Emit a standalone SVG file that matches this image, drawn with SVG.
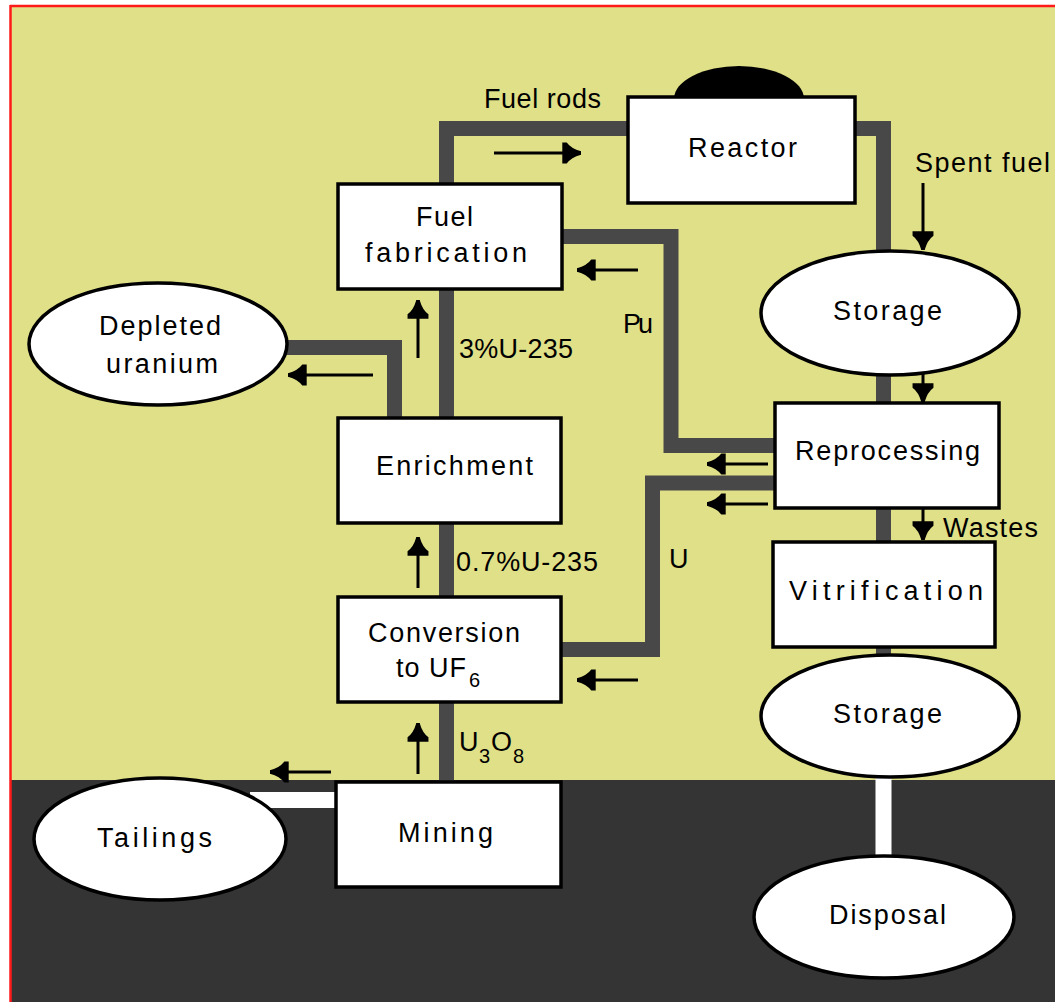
<svg xmlns="http://www.w3.org/2000/svg" width="1055" height="1002" viewBox="0 0 1055 1002">
<style>
.box{fill:#fff;stroke:#000;stroke-width:3.5}
.ell{fill:#fff;stroke:#000;stroke-width:3.5}
.pipe{fill:none;stroke:#484848;stroke-width:15;stroke-linejoin:miter;stroke-linecap:butt}
.wpipe{fill:none;stroke:#fff;stroke-width:16}
.arr{fill:none;stroke:#000;stroke-width:3;marker-end:url(#ah)}
text{font-family:"Liberation Sans","DejaVu Sans",Arial,sans-serif;font-size:27px;fill:#000}
.sub{font-size:20px}
</style>
<defs>
<marker id="ah" markerUnits="userSpaceOnUse" markerWidth="20" markerHeight="22" viewBox="0 -10 18 20" refX="17" refY="0" orient="auto" overflow="visible">
<path d="M0,-9.5 L4,-9.5 Q8,-4 17,-1.5 L17,1.5 Q8,4 4,9.5 L0,9.5 Z" fill="#000"/>
</marker>
</defs>
<rect x="0" y="0" width="1055" height="1002" fill="#fff"/>
<rect x="11" y="6" width="1044" height="774" fill="#e0e088"/>
<rect x="11" y="780" width="1044" height="222" fill="#343434"/>
<line x1="10" y1="6" x2="1055" y2="6" stroke="#ff1a1a" stroke-width="2.5"/>
<line x1="10.5" y1="5" x2="10.5" y2="1002" stroke="#ff1a1a" stroke-width="2.5"/>

<g id="connectors">
<polyline class="pipe" points="446.5,781 446.5,128.5 627,128.5"/>
<polyline class="pipe" points="855,128.5 883.5,128.5 883.5,660"/>
<polyline class="pipe" points="561,236.5 671,236.5 671,445.5 774,445.5"/>
<polyline class="pipe" points="561,649.5 652.5,649.5 652.5,483 774,483"/>
<polyline class="pipe" points="394.5,418 394.5,347.5 285,347.5"/>
<line class="wpipe" x1="250" y1="800" x2="336" y2="800"/>
<line class="wpipe" x1="883.5" y1="770" x2="883.5" y2="860"/>
<line class="arr" x1="494" y1="153" x2="581" y2="153"/>
<line class="arr" x1="638" y1="270" x2="577" y2="270"/>
<line class="arr" x1="373" y1="375" x2="288" y2="375"/>
<line class="arr" x1="418" y1="358" x2="418" y2="300"/>
<line class="arr" x1="418" y1="588" x2="418" y2="537"/>
<line class="arr" x1="418" y1="774" x2="418" y2="723"/>
<line class="arr" x1="638" y1="680" x2="577" y2="680"/>
<line class="arr" x1="768" y1="464" x2="707" y2="464"/>
<line class="arr" x1="768" y1="504" x2="707" y2="504"/>
<line class="arr" x1="923" y1="183" x2="923" y2="250"/>
<line class="arr" x1="923" y1="349" x2="923" y2="402"/>
<line class="arr" x1="923" y1="484" x2="923" y2="540"/>
<line class="arr" x1="331" y1="772" x2="270" y2="772"/>
</g>

<g id="labels">
<text x="484" y="108" textLength="117">Fuel rods</text>
<text x="915" y="172" textLength="135">Spent fuel</text>
<text x="459" y="358" textLength="114">3%U-235</text>
<text x="623" y="333" textLength="30">Pu</text>
<text x="943" y="537" textLength="95">Wastes</text>
<text x="669" y="568" textLength="18">U</text>
<text x="456" y="571" textLength="142">0.7%U-235</text>
<text><tspan x="459" y="751">U</tspan><tspan class="sub" x="479" y="763">3</tspan><tspan x="491" y="751">O</tspan><tspan class="sub" x="513" y="763">8</tspan></text>
</g>

<g id="reactor">
<path d="M674,99 A65,33 0 0 1 804,99 Z" fill="#000"/>
<rect class="box" x="628" y="97" width="227" height="106"/>
<text x="688" y="157" textLength="109">Reactor</text>
</g>
<g id="fuel-fabrication">
<rect class="box" x="338" y="184" width="224" height="105"/>
<text x="416" y="226" textLength="57">Fuel</text>
<text x="365" y="262" textLength="162">fabrication</text>
</g>
<g id="depleted-uranium">
<ellipse class="ell" cx="158" cy="344" rx="129" ry="61"/>
<text x="99" y="335" textLength="122">Depleted</text>
<text x="106" y="373" textLength="112">uranium</text>
</g>
<g id="enrichment">
<rect class="box" x="338" y="418" width="223" height="105"/>
<text x="376" y="475" textLength="157">Enrichment</text>
</g>
<g id="conversion">
<rect class="box" x="338" y="597" width="223" height="105"/>
<text x="368" y="642" textLength="152">Conversion</text>
<text><tspan x="396" y="677" textLength="70">to UF</tspan><tspan class="sub" x="469" y="687">6</tspan></text>
</g>
<g id="mining">
<rect class="box" x="336" y="782" width="225" height="105"/>
<text x="398" y="842" textLength="95">Mining</text>
</g>
<g id="tailings">
<ellipse class="ell" cx="160" cy="839" rx="126" ry="61"/>
<text x="97" y="847" textLength="115">Tailings</text>
</g>
<g id="storage-spent">
<ellipse class="ell" cx="890" cy="313" rx="129" ry="62"/>
<text x="833" y="320" textLength="109">Storage</text>
</g>
<g id="reprocessing">
<rect class="box" x="775" y="403" width="224" height="105"/>
<text x="795" y="460" textLength="185">Reprocessing</text>
</g>
<g id="vitrification">
<rect class="box" x="773" y="542" width="222" height="105"/>
<text x="789" y="600" textLength="194">Vitrification</text>
</g>
<g id="storage-waste">
<ellipse class="ell" cx="890" cy="716" rx="129" ry="61"/>
<text x="833" y="723" textLength="109">Storage</text>
</g>
<g id="disposal">
<ellipse class="ell" cx="884" cy="917" rx="130" ry="61"/>
<text x="829" y="924" textLength="117">Disposal</text>
</g>
</svg>
